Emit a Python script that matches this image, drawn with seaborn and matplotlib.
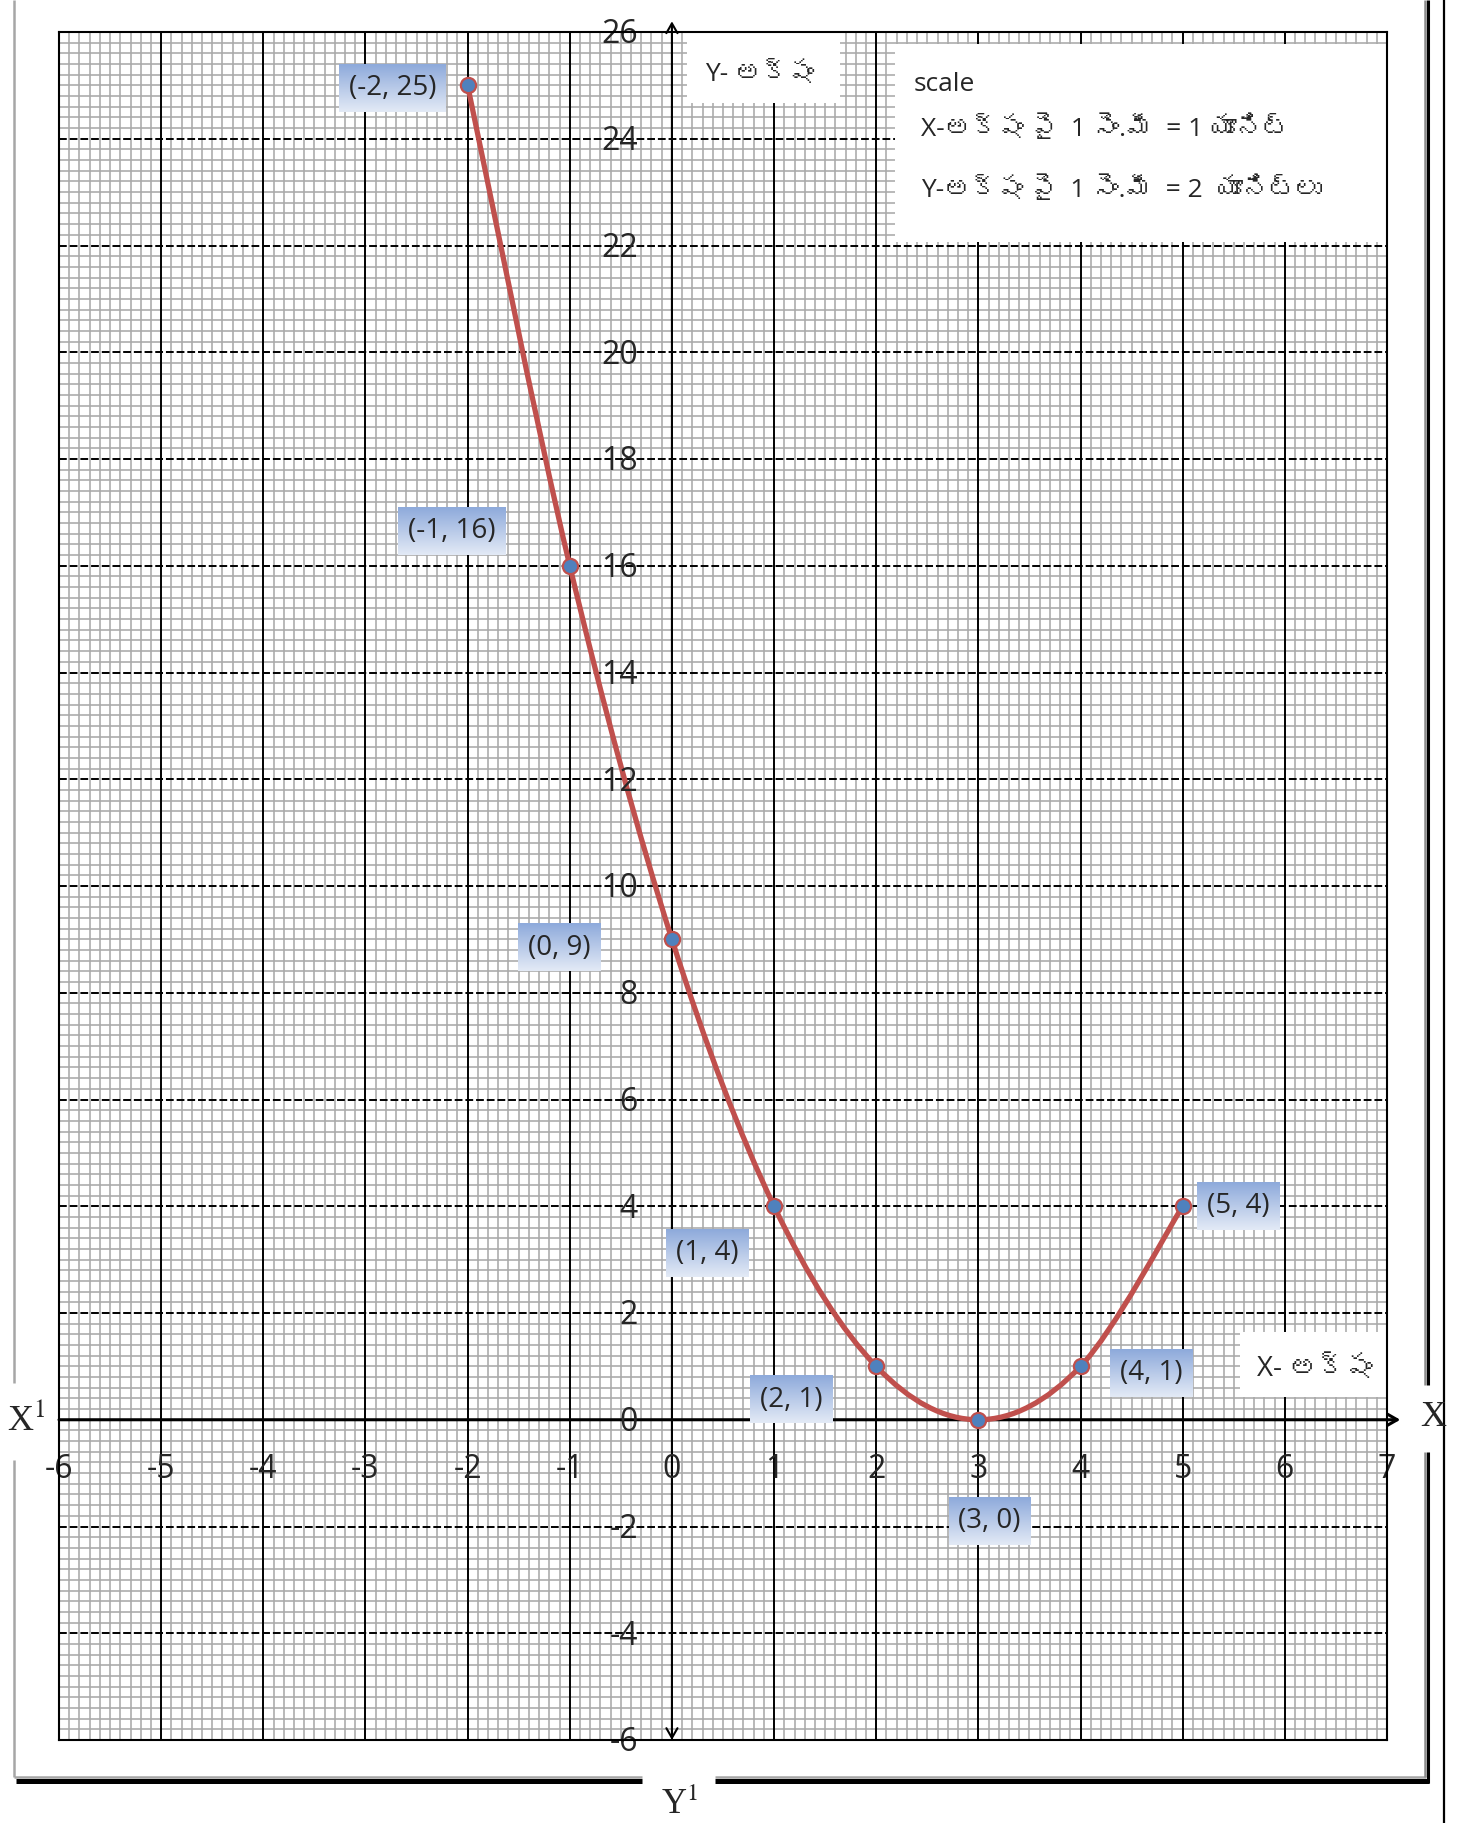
import numpy as np
import matplotlib
import seaborn as sns
import matplotlib.pyplot as plt
from matplotlib import font_manager, ft2font
from matplotlib.path import Path
from matplotlib.patches import PathPatch, Rectangle
from matplotlib.lines import Line2D
from matplotlib.ticker import MultipleLocator
from matplotlib.colors import LinearSegmentedColormap

matplotlib.use('Agg')

# data: y = (x - 3)^2 table
x_vals = [-2, -1, 0, 1, 2, 3, 4, 5]
y_vals = [25, 16, 9, 4, 1, 0, 1, 4]
x_ticks = list(range(-6, 8))
y_ticks = list(range(-6, 27, 2))
point_labels = ["(-2, 25)", "(-1, 16)", "(0, 9)", "(1, 4)", "(2, 1)", "(3, 0)", "(4, 1)", "(5, 4)"]

y_title = "Y- అక్షం"
x_title = "X- అక్షం"
scale_lines = ["scale",
               "X-అక్షం పై  1 సెం.మీ  = 1 యూనిట్",
               "Y-అక్షం పై  1 సెం.మీ  = 2  యూనిట్లు"]

# label offsets from each point (points)
label_offsets = [(-54, -2), (-85, 25), (-81, -6), (-48, -34),
                 (-61, -24), (8, -73), (51, -5), (40, 0)]

W, H = 1459, 1823


def find_font_for(ch):
    for fe in font_manager.fontManager.ttflist:
        if 'CJK' in fe.name:
            continue
        try:
            if ord(ch) in ft2font.FT2Font(fe.fname).get_charmap():
                return fe.name
        except Exception:
            continue
    return None


sns.set_style('white')
tel_font = find_font_for('అ')
base_fam = ['Open Sans', 'DejaVu Sans']
tel_fam = ['Open Sans', tel_font, 'DejaVu Sans'] if tel_font else base_fam
plt.rcParams['font.family'] = base_fam
plt.rcParams['mathtext.fontset'] = 'stix'

fig = plt.figure(figsize=(W / 100, H / 100), dpi=100)
ax = fig.add_axes([59 / W, 83 / H, 1328 / W, 1708 / H])
ax.set_xlim(-6, 7)
ax.set_ylim(-6, 26)

# graph paper
ax.xaxis.set_major_locator(MultipleLocator(1))
ax.xaxis.set_minor_locator(MultipleLocator(0.1))
ax.yaxis.set_major_locator(MultipleLocator(2))
ax.yaxis.set_minor_locator(MultipleLocator(0.2))
ax.set_axisbelow(True)
ax.grid(which='minor', color='#a9a9a9', lw=1.15)
ax.tick_params(which='both', length=0, labelbottom=False, labelleft=False)
ax.vlines(x_ticks, -6, 26, colors='black', lw=1.4, zorder=1)
ax.hlines(y_ticks, -6, 7, colors='black', lw=1.4, linestyles=(0, (4, 1.5)), zorder=1)
for sp in ax.spines.values():
    sp.set_color('black')
    sp.set_linewidth(1.5)
    sp.set_zorder(10)

# axes with arrows
ax.annotate('', xy=(7.13, 0), xytext=(-6, 0), annotation_clip=False,
            arrowprops=dict(arrowstyle='->,head_length=0.7,head_width=0.4', lw=2.2,
                            color='black', shrinkA=0, shrinkB=0), zorder=3)
ax.annotate('', xy=(0, 26.2), xytext=(0, -6), annotation_clip=False,
            arrowprops=dict(arrowstyle='<->,head_length=0.7,head_width=0.4', lw=1.5,
                            color='black', shrinkA=0, shrinkB=0), zorder=3)

# tick labels along the axes
for v in y_ticks:
    ax.annotate(str(v), xy=(0, v), xytext=(-24.5, -2), textcoords='offset points',
                ha='right', va='center', fontsize=23, zorder=8, annotation_clip=False)
for v in x_ticks:
    ax.annotate(str(v), xy=(v, 0), xytext=(0, -36), textcoords='offset points',
                ha='center', va='center', fontsize=23, zorder=8, annotation_clip=False)

# white title boxes
ax.add_patch(Rectangle((0.15, 24.67), 1.5, 1.33, fc='white', ec='none', zorder=4))
ax.add_patch(Rectangle((2.18, 22.06), 4.81, 3.72, fc='white', ec='none', zorder=4))
ax.add_patch(Rectangle((5.56, 0.43), 1.44, 1.22, fc='white', ec='none', zorder=4))
ax.text(0.86, 25.2, y_title, family=tel_fam, fontsize=19, ha='center', va='center', zorder=8)
ax.text(6.29, 0.95, x_title, family=tel_fam, fontsize=20, ha='center', va='center', zorder=8)
ax.text(2.37, 25.02, scale_lines[0], family=tel_fam, fontsize=19, ha='left', va='center', zorder=8)
ax.text(2.44, 24.19, scale_lines[1], family=tel_fam, fontsize=19, ha='left', va='center', zorder=8)
ax.text(2.44, 23.05, scale_lines[2], family=tel_fam, fontsize=19, ha='left', va='center', zorder=8)

# smoothed curve through the points (cubic bezier, excel-like smoothing)
pts = np.column_stack([x_vals, y_vals]).astype(float)
n = len(pts)
verts = [pts[0]]
codes = [Path.MOVETO]
for i in range(n - 1):
    p0 = pts[max(i - 1, 0)]
    p1 = pts[i]
    p2 = pts[i + 1]
    p3 = pts[min(i + 2, n - 1)]
    verts += [p1 + (p2 - p0) / 6, p2 - (p3 - p1) / 6, p2]
    codes += [Path.CURVE4] * 3
ax.add_patch(PathPatch(Path(verts, codes), fc='none', ec='#c0504d', lw=3.8, zorder=5,
                       capstyle='round'))

sns.scatterplot(x=x_vals, y=y_vals, s=120, color='#4f81bd', edgecolor='#c0504d',
                linewidth=1.6, zorder=6, ax=ax, clip_on=False)

# point labels
texts = []
for (px, py), lab, off in zip(pts, point_labels, label_offsets):
    t = ax.annotate(lab, xy=(px, py), xytext=off, textcoords='offset points',
                    ha='center', va='center', fontsize=20, zorder=7,
                    bbox=dict(boxstyle='square,pad=0.35', fc='none', ec='none'))
    texts.append(t)

fig.canvas.draw()
renderer = fig.canvas.get_renderer()
grad_cmap = LinearSegmentedColormap.from_list('lab', ['#e3eaf6', '#8eaadb'])
grad = np.linspace(0, 1, 64).reshape(-1, 1)
inv = ax.transData.inverted()
for t in texts:
    bb = t.get_bbox_patch().get_window_extent(renderer)
    (x0, y0), (x1, y1) = inv.transform([[bb.x0, bb.y0], [bb.x1, bb.y1]])
    ax.imshow(grad, extent=(x0, x1, y0, y1), origin='lower', cmap=grad_cmap,
              aspect='auto', zorder=5.5, interpolation='bilinear')
ax.set_xlim(-6, 7)
ax.set_ylim(-6, 26)


# page frame
def fline(x0, y0, x1, y1, color, lw):
    fig.add_artist(Line2D([x0 / W, x1 / W], [1 - y0 / H, 1 - y1 / H],
                          transform=fig.transFigure, color=color, lw=lw,
                          solid_capstyle='butt'))


fline(14, 0, 14, 1383, '#a6a6a6', 1.8)
fline(14, 1460, 14, 1777, '#a6a6a6', 1.8)
fline(14, 1777, 642, 1777, '#a6a6a6', 1.8)
fline(715, 1777, 1426, 1777, '#a6a6a6', 1.8)
fline(16, 1781, 642, 1781, 'black', 3.6)
fline(715, 1781, 1429, 1781, 'black', 3.6)
fline(1425, 0, 1425, 1385, '#8c8c8c', 1.8)
fline(1425, 1452, 1425, 1777, '#8c8c8c', 1.8)
fline(1428, 0, 1428, 1385, 'black', 2.2)
fline(1428, 1452, 1428, 1783, 'black', 2.2)
fline(1444, 0, 1444, H, 'black', 1.6)

serif = ['Liberation Serif', 'DejaVu Serif']
fig.text(26 / W, 1 - 1420 / H, 'X$^{1}$', family=serif, fontsize=26, ha='center', va='center')
fig.text(1433 / W, 1 - 1418 / H, 'X', family=serif, fontsize=26, ha='center', va='center')
fig.text(680 / W, 1 - 1805 / H, 'Y$^{1}$', family=serif, fontsize=25, ha='center', va='center')

fig.savefig('out.png', dpi=100)
